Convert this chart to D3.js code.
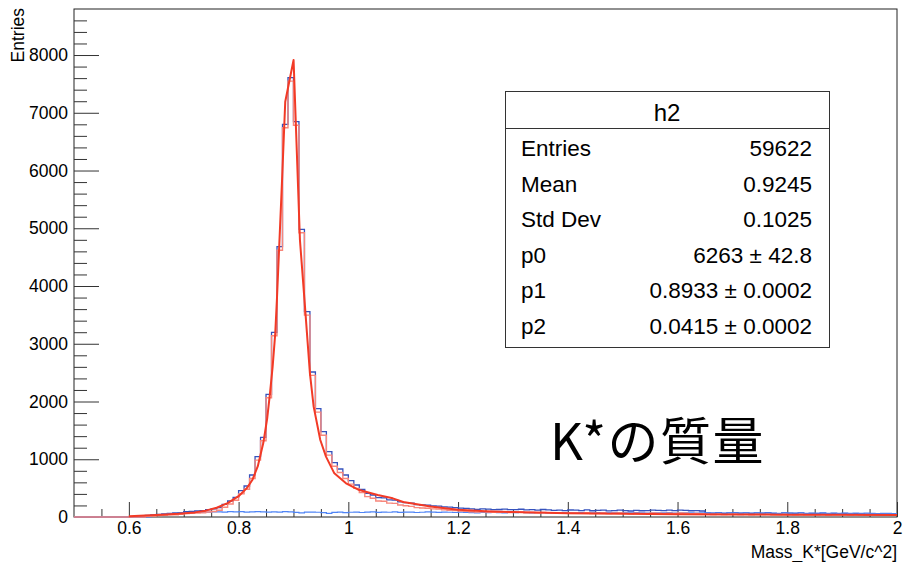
<!DOCTYPE html>
<html>
<head>
<meta charset="utf-8">
<script src="https://cdn.jsdelivr.net/npm/d3@7"></script>
<style>
  html, body { margin: 0; padding: 0; background: #fff; }
  svg { display: block; }
  text { font-family: "Liberation Sans", Arial, sans-serif; fill: #000; }
</style>
</head>
<body>
<svg id="chart" width="903" height="562"></svg>
<script>
// Histogram binning: 150 bins of 0.01 GeV between 0.5 and 2.0
const massRange = [0.5, 2.0];
const binCount = 150;

// h2 : all K* candidates (counts per bin)
const countsAll = [
  0,0,0,0,0,0,0,0,0,0,0,0,0,
  29,35,46,52,63,69,75,92,98,104,110,127,139,162,219,277,341,
  456,537,727,1044,1380,2124,3198,4681,6800,7607,
  6845,4981,3556,2511,1876,1477,1131,941,831,727,
  629,554,480,410,381,334,330,296,292,262,
  250,238,214,208,205,192,188,176,170,164,
  152,150,141,132,140,136,128,130,138,126,
  128,134,122,126,118,130,124,116,120,112,
  121,118,110,124,108,114,120,106,112,118,
  110,104,116,108,112,120,114,110,118,112,
  120,116,108,112,104,72,68,76,64,70,
  74,66,72,62,70,68,74,64,60,72,
  66,62,70,58,64,60,68,56,62,58,
  64,54,60,56,50,58,52,48,54,50
];

// signal component (counts per bin)
const countsSignal = [
  0,0,0,0,0,0,0,0,0,0,0,0,0,
  12,18,24,30,36,40,46,58,62,68,72,86,96,118,170,226,290,
  400,480,668,985,1320,2065,3140,4620,6740,7548,
  6785,4922,3496,2452,1816,1416,1072,880,770,668,
  570,496,422,352,324,278,274,240,236,208,
  196,184,162,156,152,140,136,124,118,112,
  102,100,92,84,90,86,80,82,88,78,
  80,84,74,78,70,80,76,68,72,64,
  72,70,62,74,60,66,70,58,64,68,
  62,56,66,60,62,68,64,60,66,62,
  68,64,58,60,56,46,44,48,42,46,
  48,42,46,40,44,42,46,40,38,44,
  42,38,44,36,40,38,42,34,38,36,
  40,34,36,34,30,36,32,30,32,30
];

// combinatorial background (counts per bin)
const countsBackground = [
  0,0,0,0,0,0,0,0,0,0,0,0,0,0,
  30,38,46,54,60,68,74,78,82,86,84,88,90,86,92,88,
  92,86,90,94,88,84,90,86,92,88,
  80,70,84,86,82,76,62,80,84,76,
  82,86,78,84,88,80,84,82,88,80,
  86,84,78,82,88,84,80,86,82,78,
  84,80,76,72,78,74,80,76,72,78,
  74,80,76,70,78,74,72,78,70,76,
  74,72,78,70,74,76,70,74,72,68,
  74,70,76,72,68,74,70,72,76,68,
  72,70,74,68,72,70,66,72,68,70,
  74,66,70,68,72,66,70,68,64,70,
  68,66,70,64,68,66,70,64,66,62,
  68,64,66,62,66,64,60,64,62,60
];

// fitted line shape, sampled along the mass axis
const fitMass = [
  0.60,0.63,0.66,0.69,0.72,0.74,0.76,0.78,0.80,0.815,0.825,0.835,0.845,0.852,
  0.857,0.862,0.8668,0.870,0.874,0.8795,0.885,0.9002,0.9118,0.921,0.930,0.9368,
  0.9489,0.9593,0.9745,0.9958,1.020,1.0535,1.081,1.10,1.15,1.20,1.25,1.30,
  1.40,1.50,1.60,1.70,1.80,1.90,2.00
];
const fitValue = [
  15,25,38,55,80,110,160,240,360,500,640,880,1280,1700,
  2124,2600,3180,3800,4681,5900,7191,7913,4796,3642,2488,1911,
  1333,1045,756,583,467,381,323,260,180,125,100,85,
  67,56,48,43,40,37,35
];

// statistics box
const statTitle = "h2";
const statLabels = ["Entries", "Mean", "Std Dev", "p0", "p1", "p2"];
const statValues = ["59622", "0.9245", "0.1025", "6263 \u00b1 42.8", "0.8933 \u00b1 0.0002", "0.0415 \u00b1 0.0002"];

// axes
const xMajorTicks = [0.6, 0.8, 1.0, 1.2, 1.4, 1.6, 1.8, 2.0];
const yMajorTicks = [0, 1000, 2000, 3000, 4000, 5000, 6000, 7000, 8000];
const yTop = 8797;
const xTitle = "Mass_K*[GeV/c^2]";
const yTitle = "Entries";
const caption = "K*の質量";

const svg = d3.select("#chart");
const frame = { left: 74, right: 897, top: 9, bottom: 517 };

const x = d3.scaleLinear().domain(massRange).range([frame.left, frame.right]);
const y = d3.scaleLinear().domain([0, yTop]).range([frame.bottom, frame.top]);

const binWidth = (massRange[1] - massRange[0]) / binCount;
const edges = d3.range(binCount + 1).map(i => massRange[0] + i * binWidth);

// frame box
svg.append("rect")
  .attr("x", frame.left).attr("y", frame.top)
  .attr("width", frame.right - frame.left).attr("height", frame.bottom - frame.top)
  .attr("fill", "none").attr("stroke", "#222").attr("stroke-width", 1);

// x axis: minor ticks every 0.05, major ticks every 0.2 with labels
const xMinor = d3.range(0.55, 2.0001, 0.05).filter(v => !xMajorTicks.some(m => Math.abs(m - v) < 1e-6));
svg.append("g")
  .attr("transform", `translate(0,${frame.bottom})`)
  .call(d3.axisBottom(x).tickValues(xMinor).tickSize(-8).tickFormat(""))
  .call(g => g.select(".domain").remove())
  .call(g => g.selectAll("line").attr("stroke", "#333"));
svg.append("g")
  .attr("transform", `translate(0,${frame.bottom})`)
  .call(d3.axisBottom(x).tickValues(xMajorTicks).tickSize(-15).tickPadding(5)
        .tickFormat(d => String(+d.toFixed(1))))
  .call(g => g.select(".domain").remove())
  .call(g => g.selectAll("line").attr("stroke", "#333"))
  .call(g => g.selectAll("text").attr("font-size", 17.5).attr("font-family", "Liberation Sans, Arial, sans-serif").attr("fill", "#000"));

// y axis: minor ticks every 200, major every 1000
const yMinor = d3.range(200, yTop, 200).filter(v => v % 1000 !== 0);
svg.append("g")
  .attr("transform", `translate(${frame.left},0)`)
  .call(d3.axisLeft(y).tickValues(yMinor).tickSize(-13).tickFormat(""))
  .call(g => g.select(".domain").remove())
  .call(g => g.selectAll("line").attr("stroke", "#333"));
svg.append("g")
  .attr("transform", `translate(${frame.left},0)`)
  .call(d3.axisLeft(y).tickValues(yMajorTicks).tickSize(-25).tickPadding(6).tickFormat(d3.format("d")))
  .call(g => g.select(".domain").remove())
  .call(g => g.selectAll("line").attr("stroke", "#333"))
  .call(g => g.selectAll("text").attr("font-size", 17.5).attr("font-family", "Liberation Sans, Arial, sans-serif").attr("fill", "#000"));

// step outline of a histogram
function stepLine(counts) {
  const pts = counts.map((c, i) => [edges[i], c]);
  pts.push([edges[binCount], counts[binCount - 1]]);
  return d3.line().x(d => x(d[0])).y(d => y(d[1])).curve(d3.curveStepAfter)(pts);
}

const plot = svg.append("g");
plot.append("path").attr("d", stepLine(countsAll))
  .attr("fill", "none").attr("stroke", "#3552bd").attr("stroke-width", 1.3);
plot.append("path").attr("d", stepLine(countsBackground))
  .attr("fill", "none").attr("stroke", "#4f84f5").attr("stroke-width", 1.2);
plot.append("path").attr("d", stepLine(countsSignal))
  .attr("fill", "none").attr("stroke", "#f7877c").attr("stroke-width", 1.4);

// fit curve
const fitPts = fitMass.map((m, i) => [m, fitValue[i]]);
plot.append("path")
  .attr("d", d3.line().x(d => x(d[0])).y(d => y(d[1])).curve(d3.curveLinear)(fitPts))
  .attr("fill", "none").attr("stroke", "#f23a26").attr("stroke-width", 2)
  .attr("stroke-linejoin", "round");

// axis titles
svg.append("text")
  .attr("transform", `translate(24,8) rotate(-90)`)
  .attr("text-anchor", "end")
  .attr("font-size", 17.5)
  .text(yTitle);
svg.append("text")
  .attr("x", 897).attr("y", 557.5)
  .attr("text-anchor", "end")
  .attr("font-size", 17.5)
  .text(xTitle);

// statistics box
const box = { x: 505, y: 91, w: 324, h: 256, head: 37 };
const stats = svg.append("g");
stats.append("rect")
  .attr("x", box.x + 0.5).attr("y", box.y + 0.5).attr("width", box.w).attr("height", box.h)
  .attr("fill", "#fff").attr("stroke", "#333").attr("stroke-width", 1);
stats.append("line")
  .attr("x1", box.x).attr("x2", box.x + box.w)
  .attr("y1", box.y + box.head + 0.5).attr("y2", box.y + box.head + 0.5)
  .attr("stroke", "#333");
stats.append("text")
  .attr("x", box.x + box.w / 2).attr("y", box.y + 30)
  .attr("text-anchor", "middle").attr("font-size", 24)
  .text(statTitle);
const rowY = d3.scaleLinear().domain([0, statLabels.length - 1]).range([156, 334]);
statLabels.forEach((lab, i) => {
  stats.append("text").attr("x", 521).attr("y", rowY(i)).attr("font-size", 22.5).text(lab);
  stats.append("text").attr("x", 812).attr("y", rowY(i)).attr("text-anchor", "end")
    .attr("font-size", 22.5).text(statValues[i]);
});

// caption
svg.append("text")
  .attr("x", 550).attr("y", 460)
  .attr("font-size", 51)
  .attr("letter-spacing", 1.5)
  .style("font-family", "'Noto Sans CJK JP', sans-serif")
  .text(caption);
</script>
</body>
</html>
